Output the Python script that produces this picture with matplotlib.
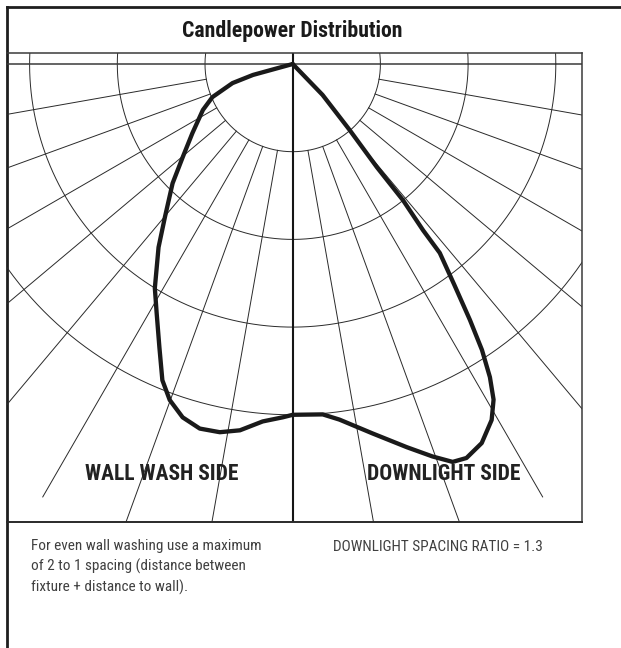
import numpy as np
import matplotlib.pyplot as plt

# candlepower curve, intensity in grid rings, angle from nadir (deg)
wall_angle = [90, 74.6, 72.4, 67.6, 62.9, 55.4, 49.8, 45.2, 39.9, 36.2, 31.6,
              28.6, 25.2, 22.4, 20.1, 17.3, 14.3, 11.2, 8.2, 4.8, 1.6, 0]
wall_cd = [0, 0.47, 0.72, 0.99, 1.15, 1.39, 1.64, 1.93, 2.27, 2.59, 3.00,
           3.24, 3.57, 3.90, 4.08, 4.22, 4.29, 4.28, 4.22, 4.09, 4.03, 4.00]

down_angle = [0, 4.9, 7.5, 12.2, 16.6, 19.6, 21.9, 23.8, 26.5, 29.2, 30.9,
              32.2, 33.5, 34.7, 36.2, 37.9, 38.1, 39.0, 39.2, 40.8, 44.0, 90]
down_cd = [4.00, 4.01, 4.09, 4.31, 4.56, 4.75, 4.89, 4.91, 4.83, 4.65, 4.46,
           4.22, 3.91, 3.55, 3.12, 2.73, 2.41, 2.00, 1.52, 0.99, 0.49, 0]

ring_radii = [1, 2, 3, 4]
spoke_angles = [10, 20, 30, 40, 50, 60, 70, 80]
spoke_len = (1, 5.7)

title = "Candlepower Distribution"
side_labels = ["WALL WASH SIDE", "DOWNLIGHT SIDE"]
note_lines = ["For even wall washing use a maximum",
              "of 2 to 1 spacing (distance between",
              "fixture + distance to wall)."]
ratio_text = "DOWNLIGHT SPACING RATIO = 1.3"

plt.rcParams["font.family"] = ["Roboto Condensed", "DejaVu Sans"]


def polar_xy(angle, r, side):
    th = np.radians(np.asarray(angle, dtype=float))
    r = np.asarray(r, dtype=float)
    return side * r * np.sin(th), -r * np.cos(th)


W, H = 621, 648
fig = plt.figure(figsize=(W / 100, H / 100), dpi=100)

# outer frame (left + top rule)
frame = fig.add_axes([6.5 / W, 0, 1 - 6.5 / W, (H - 7) / H])
frame.set_xticks([])
frame.set_yticks([])
for s in ["right", "bottom"]:
    frame.spines[s].set_visible(False)
for s in ["left", "top"]:
    frame.spines[s].set_linewidth(2.0)
    frame.spines[s].set_color("#1e1e1e")

# chart box, 1 ring = 87.7 px
u = 87.7
ax = fig.add_axes([7 / W, 126 / H, 575 / W, 469 / H])
ax.set_xlim(-285.7 / u, 289.3 / u)
ax.set_ylim(-458 / u, 11 / u)
ax.set_xticks([])
ax.set_yticks([])
ax.patch.set_alpha(0)
ax.spines["left"].set_visible(False)
for s in ["top", "right"]:
    ax.spines[s].set_linewidth(1.1)
    ax.spines[s].set_color("#3a3a3a")
ax.spines["bottom"].set_linewidth(1.4)
ax.spines["bottom"].set_color("#2a2a2a")

grid_kw = dict(color="#2a2a2a", lw=0.7)
t = np.linspace(0, 2 * np.pi, 720)
for r in ring_radii:
    ax.plot(r * np.cos(t), r * np.sin(t), **grid_kw)
for a in spoke_angles:
    for side in (-1, 1):
        xs, ys = polar_xy([a, a], spoke_len, side)
        ax.plot(xs, ys, **grid_kw)

ax.axhline(0, color="#3a3a3a", lw=1.1)
ax.axvline(0, color="#151515", lw=1.5)

# candlepower curve
lx, ly = polar_xy(wall_angle, wall_cd, -1)
rx, ry = polar_xy(down_angle, down_cd, 1)
ax.plot(np.r_[lx, rx], np.r_[ly, ry], color="#1a1a1a", lw=3.1,
        solid_joinstyle="round", solid_capstyle="round", zorder=5)

lab_kw = dict(fontsize=15.5, fontweight="bold", color="#222222",
              ha="center", va="baseline", zorder=6)
ax.text(-1.49, -4.743, side_labels[0], **lab_kw)
ax.text(1.725, -4.743, side_labels[1], **lab_kw)

fig.text(292 / W, 1 - 36.5 / H, title, fontsize=15.7, fontweight="bold",
         color="#1a1a1a", ha="center", va="baseline")

for i, line in enumerate(note_lines):
    fig.text(31 / W, 1 - (550 + 21 * i) / H, line, fontsize=11.0,
             color="#404040", ha="left", va="baseline")
fig.text(333 / W, 1 - 551 / H, ratio_text, fontsize=11.0,
         color="#404040", ha="left", va="baseline")

fig.savefig("out.png", dpi=100)
